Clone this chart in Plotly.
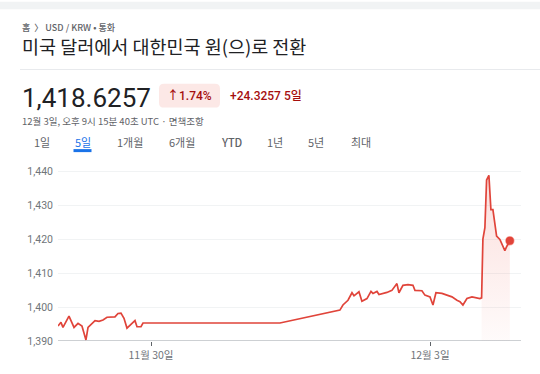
import plotly.graph_objects as go

# ---------------- data ----------------
times = [
    "2024-11-29 00:00", "2024-11-29 00:46", "2024-11-29 01:17", "2024-11-29 02:50",
    "2024-11-29 04:08", "2024-11-29 05:10", "2024-11-29 06:11", "2024-11-29 07:13",
    "2024-11-29 07:45", "2024-11-29 09:33", "2024-11-29 10:35", "2024-11-29 11:37",
    "2024-11-29 12:39", "2024-11-29 14:42", "2024-11-29 15:29", "2024-11-29 16:15",
    "2024-11-29 17:02", "2024-11-29 17:48", "2024-11-29 19:06", "2024-11-29 19:52",
    "2024-11-29 20:23", "2024-11-29 21:25", "2024-11-29 21:56",
    "2024-12-01 09:17",
    "2024-12-02 00:45", "2024-12-02 01:32", "2024-12-02 02:50", "2024-12-02 03:52",
    "2024-12-02 04:23", "2024-12-02 05:40", "2024-12-02 06:26", "2024-12-02 07:44",
    "2024-12-02 08:46", "2024-12-02 09:17", "2024-12-02 10:19", "2024-12-02 10:50",
    "2024-12-02 12:53", "2024-12-02 14:10", "2024-12-02 15:28", "2024-12-02 15:59",
    "2024-12-02 17:01", "2024-12-02 18:19", "2024-12-02 19:36", "2024-12-02 20:07",
    "2024-12-02 21:55", "2024-12-02 22:41", "2024-12-03 00:00", "2024-12-03 00:46",
    "2024-12-03 01:32", "2024-12-03 03:05", "2024-12-03 04:22", "2024-12-03 05:40",
    "2024-12-03 06:57", "2024-12-03 07:44", "2024-12-03 08:30", "2024-12-03 09:32",
    "2024-12-03 10:50", "2024-12-03 11:36", "2024-12-03 12:53", "2024-12-03 13:19",
    "2024-12-03 13:39", "2024-12-03 14:10", "2024-12-03 14:36", "2024-12-03 15:12",
    "2024-12-03 15:43", "2024-12-03 16:14", "2024-12-03 17:11", "2024-12-03 18:02",
    "2024-12-03 19:19", "2024-12-03 19:50", "2024-12-03 20:36",
]
rates = [
    1394.4, 1395.5, 1394.0, 1397.3,
    1394.0, 1395.2, 1394.4, 1390.3,
    1394.0, 1396.0, 1395.8, 1396.2,
    1397.0, 1397.1, 1398.1, 1398.2,
    1396.7, 1393.8, 1395.2, 1396.0,
    1394.2, 1394.2, 1395.3,
    1395.3,
    1399.1, 1400.6, 1402.0, 1404.2,
    1403.3, 1404.5, 1401.7, 1402.5,
    1404.6, 1404.0, 1404.6, 1403.7,
    1404.3, 1404.9, 1406.9, 1404.2,
    1406.4, 1406.6, 1406.4, 1404.9,
    1404.8, 1403.5, 1403.0, 1400.6,
    1404.2, 1404.0, 1403.5, 1403.0,
    1402.0, 1401.6, 1400.6, 1402.5,
    1403.0, 1402.8, 1402.5, 1402.7,
    1420.0, 1423.4, 1437.4, 1438.8,
    1428.7, 1428.7, 1420.9, 1419.9,
    1416.6, 1417.9, 1419.5,
]
spike_start = times.index("2024-12-03 13:19")

y_ticks = [1390, 1400, 1410, 1420, 1430, 1440]
x_tick_dates = ["2024-11-30", "2024-12-03"]
x_tick_labels = ["11월 30일", "12월 3일"]
x_range = ["2024-11-29 00:00", "2024-12-03 23:29"]
y_range = [1390, 1443]

breadcrumb = "홈  〉 USD / KRW • 통화"
title_text = "미국 달러에서 대한민국 원(으)로 전환"
price_text = "1,418.6257"
pct_text = "↑1.74%"
change_text = "+24.3257 5일"
caption_text = "12월 3일, 오후 9시 15분 40초 UTC · 면책조항"
tabs = ["1일", "5일", "1개월", "6개월", "YTD", "1년", "5년", "최대"]
active_tab = "5일"

# ---------------- layout geometry ----------------
W, H = 540, 374
L, R, T, B = 58, 19, 161, 31
PW, PH = W - L - R, H - T - B


def X(px):
    return (px - L) / PW


def Y(py):
    return (H - B - py) / PH


RED = "#e0443a"
DARK_RED = "#a50e0e"
FONT = "Roboto, 'Noto Sans CJK KR', sans-serif"
KFONT = "'Noto Sans CJK KR', Roboto, sans-serif"

fig = go.Figure()

# gradient fill under the last (spike) segment
fig.add_trace(go.Scatter(
    x=times[spike_start:], y=rates[spike_start:],
    mode="lines", line=dict(width=0, color=RED),
    fill="tozeroy",
    fillgradient=dict(type="vertical", start=1390, stop=1440,
                      colorscale=[[0, "rgba(234,67,53,0.02)"], [1, "rgba(234,67,53,0.18)"]]),
    hoverinfo="skip", showlegend=False,
))

fig.add_trace(go.Scatter(
    x=times, y=rates, mode="lines",
    line=dict(color=RED, width=1.7),
    showlegend=False,
))

fig.add_trace(go.Scatter(
    x=[times[-1]], y=[rates[-1]], mode="markers",
    marker=dict(size=8, color=RED, line=dict(width=1.5, color="rgba(234,67,53,0.45)")),
    showlegend=False,
))

shapes = []
# top grey strip
shapes.append(dict(type="rect", xref="paper", yref="paper",
                   x0=X(0), x1=X(W), y0=Y(0), y1=Y(7.5),
                   fillcolor="#f1f3f4", line=dict(width=0), layer="below"))
# divider
shapes.append(dict(type="line", xref="paper", yref="paper",
                   x0=X(20), x1=X(W), y0=Y(68.5), y1=Y(68.5),
                   line=dict(color="#e8eaed", width=1)))


def rrect(x0, y0, x1, y1, r):
    xs = lambda v: X(v)
    ys = lambda v: Y(v)
    return (f"M {xs(x0+r)},{ys(y0)} L {xs(x1-r)},{ys(y0)} "
            f"Q {xs(x1)},{ys(y0)} {xs(x1)},{ys(y0+r)} L {xs(x1)},{ys(y1-r)} "
            f"Q {xs(x1)},{ys(y1)} {xs(x1-r)},{ys(y1)} L {xs(x0+r)},{ys(y1)} "
            f"Q {xs(x0)},{ys(y1)} {xs(x0)},{ys(y1-r)} L {xs(x0)},{ys(y0+r)} "
            f"Q {xs(x0)},{ys(y0)} {xs(x0+r)},{ys(y0)} Z")


# badge
shapes.append(dict(type="path", xref="paper", yref="paper",
                   path=rrect(159, 83, 220, 107, 5),
                   fillcolor="#fce8e6", line=dict(width=0)))
# active tab underline
shapes.append(dict(type="line", xref="paper", yref="paper",
                   x0=X(73.5), x1=X(91.5), y0=Y(150.5), y1=Y(150.5),
                   line=dict(color="#1a73e8", width=3)))
# baseline
shapes.append(dict(type="line", xref="paper", yref="y",
                   x0=0, x1=1, y0=1390, y1=1390,
                   line=dict(color="#9aa0a6", width=1)))

annotations = []


def txt(text, px, py, size, color, anchor="left", family=FONT, weight=None):
    f = dict(size=size, color=color, family=family)
    if weight:
        f["weight"] = weight
    annotations.append(dict(text=text, xref="paper", yref="paper",
                            x=X(px), y=Y(py), xanchor=anchor, yanchor="middle",
                            showarrow=False, font=f))


txt(breadcrumb, 20, 26, 9, "#5f6368", family=KFONT, weight=500)
txt(title_text, 20, 45, 18.5, "#202124", family=KFONT)
txt(price_text, 20, 97, 26, "#202124")
txt(pct_text, 189.5, 95.5, 12, DARK_RED, anchor="center", weight=500)
txt(change_text, 228, 95.5, 12, DARK_RED, weight=500)
txt(caption_text, 20, 121, 9.5, "#5f6368", family=KFONT)

tab_centers = [41.5, 82.5, 129.5, 182, 232, 275, 316, 361]
for t, cx in zip(tabs, tab_centers):
    col = "#1a73e8" if t == active_tab else "#5f6368"
    txt(t, cx, 141.5, 11, col, anchor="center", family=KFONT, weight=500 if t == "YTD" else 400)

fig.update_layout(
    width=W, height=H,
    margin=dict(l=L, r=R, t=T, b=B, pad=0),
    paper_bgcolor="white", plot_bgcolor="white",
    shapes=shapes, annotations=annotations,
    showlegend=False,
    xaxis=dict(type="date", range=x_range, tickvals=x_tick_dates, ticktext=x_tick_labels,
               showgrid=False, zeroline=False, showline=False,
               ticks="outside", ticklen=4, tickcolor="#5f6368", tickwidth=1.2,
               tickfont=dict(family=KFONT, size=10.5, color="#70757a"),
               fixedrange=True),
    yaxis=dict(range=y_range, tickvals=y_ticks, tickformat=",d",
               showgrid=True, gridcolor="#f1f3f4", gridwidth=1,
               zeroline=False, showline=False, ticks="",
               tickfont=dict(family=FONT, size=10.5, color="#70757a"),
               ticklabelstandoff=4, fixedrange=True),
)

fig.write_html("out.html")
